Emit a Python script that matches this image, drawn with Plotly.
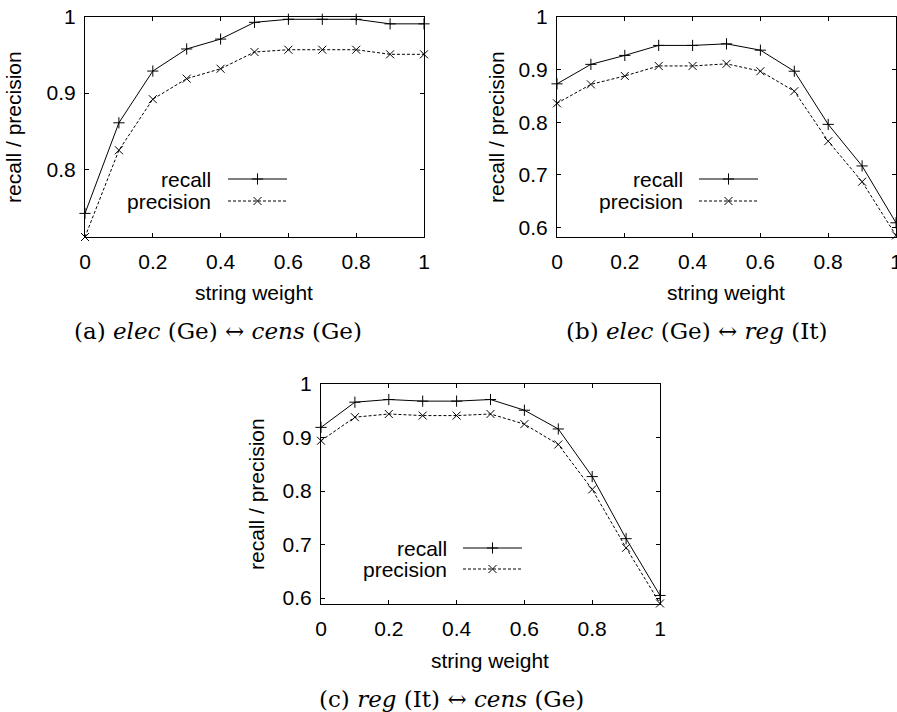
import plotly.graph_objects as go

# ============================
# Data
# ============================

weights = [0, 0.1, 0.2, 0.3, 0.4, 0.5, 0.6, 0.7, 0.8, 0.9, 1.0]

# (a) elec (Ge) <-> cens (Ge)
recall_a = [0.742, 0.861, 0.929, 0.958, 0.971, 0.993, 0.997, 0.997, 0.997, 0.991, 0.991]
precision_a = [0.711, 0.825, 0.892, 0.919, 0.932, 0.954, 0.957, 0.957, 0.957, 0.951, 0.951]

# (b) elec (Ge) <-> reg (It)
recall_b = [0.873, 0.910, 0.927, 0.946, 0.946, 0.949, 0.937, 0.897, 0.796, 0.717, 0.609]
precision_b = [0.836, 0.872, 0.888, 0.907, 0.907, 0.911, 0.897, 0.859, 0.764, 0.687, 0.585]

# (c) reg (It) <-> cens (Ge)
recall_c = [0.919, 0.966, 0.971, 0.968, 0.968, 0.971, 0.951, 0.916, 0.827, 0.711, 0.605]
precision_c = [0.894, 0.938, 0.944, 0.941, 0.941, 0.944, 0.925, 0.887, 0.803, 0.694, 0.590]

x_ticks = [0, 0.2, 0.4, 0.6, 0.8, 1]
x_ticktext = ['0', '0.2', '0.4', '0.6', '0.8', '1']
y_ticks_a = [0.8, 0.9, 1]
y_ticks_bc = [0.6, 0.7, 0.8, 0.9, 1]

captions = [
    '(a) <i>elec</i> (Ge) \u2194 <i>cens</i> (Ge)',
    '(b) <i>elec</i> (Ge) \u2194 <i>reg</i> (It)',
    '(c) <i>reg</i> (It) \u2194 <i>cens</i> (Ge)',
]

# ============================
# Layout in pixels
# ============================

W, H = 897, 712
SANS = 'Liberation Sans, Arial, sans-serif'
SERIF = 'DejaVu Serif, serif'
FS = 21


def dom_x(a, b):
    return [a / W, b / W]


def dom_y(top, bottom):
    return [1 - bottom / H, 1 - top / H]


# (left, right, top, bottom, ymin)
panels = [
    (85, 424, 17, 237, 0.711),
    (557, 896, 17, 237, 0.582),
    (321, 660, 384, 604, 0.589),
]
series = [(recall_a, precision_a), (recall_b, precision_b), (recall_c, precision_c)]
yticks = [y_ticks_a, y_ticks_bc, y_ticks_bc]

fig = go.Figure()

recall_style = dict(mode='lines+markers', line=dict(color='black', width=1),
                    marker=dict(symbol='cross-thin', size=8, line=dict(color='black', width=1)))
precision_style = dict(mode='lines+markers', line=dict(color='black', width=1, dash='3px,2px'),
                       marker=dict(symbol='x-thin', size=8, line=dict(color='black', width=1)))

for i, ((l, r, t, b, ymin), (rec, prec), yt) in enumerate(zip(panels, series, yticks)):
    n = '' if i == 0 else str(i + 1)
    fig.add_trace(go.Scatter(x=weights, y=rec, xaxis='x' + n, yaxis='y' + n,
                             showlegend=False, cliponaxis=False, **recall_style))
    fig.add_trace(go.Scatter(x=weights, y=prec, xaxis='x' + n, yaxis='y' + n,
                             showlegend=False, cliponaxis=False, **precision_style))
    axis_common = dict(showline=True, linecolor='black', linewidth=1, mirror='ticks',
                       ticks='inside', ticklen=4, tickcolor='black', showgrid=False,
                       zeroline=False, automargin=False, ticklabeloverflow='allow',
                       tickfont=dict(family=SANS, size=FS, color='black'))
    fig.update_layout(**{
        'xaxis' + n: dict(domain=dom_x(l, r), range=[0, 1], anchor='y' + n,
                          tickvals=x_ticks, ticktext=x_ticktext, ticklabelstandoff=6,
                          **axis_common),
        'yaxis' + n: dict(domain=dom_y(t, b), range=[ymin, 1], anchor='x' + n,
                          tickvals=yt, ticktext=[f'{v:g}' for v in yt], ticklabelstandoff=4,
                          **axis_common),
    })

# pixel overlay axis for titles, captions and legend keys
fig.update_layout(
    xaxis4=dict(domain=[0, 1], range=[0, W], visible=False, anchor='y4', automargin=False),
    yaxis4=dict(domain=[0, 1], range=[H, 0], visible=False, anchor='x4', automargin=False),
)

annotations = []
legend_pos = [(213, 179, 201, 228, 287), (685, 179, 201, 699, 758), (449, 548, 569, 463, 522)]
xtitle_pos = [(254, 292), (726, 292), (490, 660)]
ytitle_pos = [(13, 127), (496, 127), (256, 494)]
caption_pos = [(218, 331), (697, 331), (451, 699)]

for (tx, yr, yp, x0, x1) in legend_pos:
    annotations.append(dict(x=tx, y=yr, text='recall', xanchor='right', yanchor='middle'))
    annotations.append(dict(x=tx, y=yp, text='precision', xanchor='right', yanchor='middle'))
    xm = (x0 + x1) / 2
    fig.add_trace(go.Scatter(x=[x0, xm, x1], y=[yr, yr, yr], xaxis='x4', yaxis='y4',
                             showlegend=False, line=recall_style['line'], mode='lines',
                             hoverinfo='skip'))
    fig.add_trace(go.Scatter(x=[xm], y=[yr], xaxis='x4', yaxis='y4', showlegend=False,
                             mode='markers', marker=recall_style['marker'], hoverinfo='skip'))
    fig.add_trace(go.Scatter(x=[x0, xm, x1], y=[yp, yp, yp], xaxis='x4', yaxis='y4',
                             showlegend=False, line=precision_style['line'], mode='lines',
                             hoverinfo='skip'))
    fig.add_trace(go.Scatter(x=[xm], y=[yp], xaxis='x4', yaxis='y4', showlegend=False,
                             mode='markers', marker=precision_style['marker'], hoverinfo='skip'))

for (x, y) in xtitle_pos:
    annotations.append(dict(x=x, y=y, text='string weight', xanchor='center', yanchor='middle'))
for (x, y) in ytitle_pos:
    annotations.append(dict(x=x, y=y, text='recall / precision', textangle=-90,
                            xanchor='center', yanchor='middle'))

for a in annotations:
    a.update(xref='x4', yref='y4', showarrow=False,
             font=dict(family=SANS, size=FS, color='black'))

for (x, y), txt in zip(caption_pos, captions):
    annotations.append(dict(x=x, y=y, text=txt, xref='x4', yref='y4', showarrow=False,
                            xanchor='center', yanchor='middle',
                            font=dict(family=SERIF, size=23, color='black')))

fig.update_layout(
    template='none',
    annotations=annotations,
    width=W, height=H,
    margin=dict(l=0, r=0, t=0, b=0, pad=0, autoexpand=False),
    paper_bgcolor='white', plot_bgcolor='rgba(0,0,0,0)',
    showlegend=False,
)

# drop the default page margin so the figure sits at the window's top-left corner
fig.write_html('out.html', config={'displayModeBar': False},
               post_script="document.body.style.margin='0';document.body.style.overflow='hidden';")
